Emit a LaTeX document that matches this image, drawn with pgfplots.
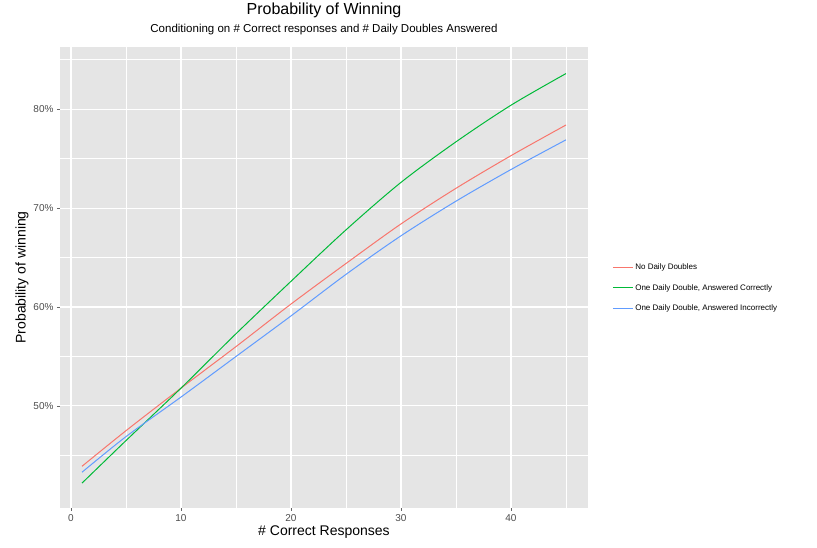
\documentclass[border=0pt]{standalone}
\usepackage{pgfplots}
\pgfplotsset{compat=1.18}
\usepackage{fontspec}
\setmainfont{Liberation Sans}
\definecolor{cR}{HTML}{F8766D}
\definecolor{cG}{HTML}{00BA38}
\definecolor{cB}{HTML}{619CFF}
\begin{document}
\begin{tikzpicture}
\begin{axis}[
  scale only axis, width=528pt, height=461pt,
  xmin=-1, xmax=47, ymin=39.7, ymax=86.3,
  axis background/.style={fill=black!10},
  axis line style={draw=none},
  xtick pos=bottom, ytick pos=left,
  xtick={0,10,20,30,40}, ytick={50,60,70,80},
  minor xtick={5,15,25,35,45}, minor ytick={45,55,65,75,85},
  yticklabel={\pgfmathprintnumber{\tick}\%},
  /pgf/number format/assume math mode=true,
  tick label style={font=\fontsize{10}{12}\selectfont, text=black!70},
  major tick style={black!60, thick}, minor tick style={draw=none},
  tick align=outside, major tick length=3pt,
  grid=both, major grid style={white, line width=1.1pt}, minor grid style={white, line width=0.5pt},
  xlabel={\# Correct Responses}, ylabel={Probability of winning},
  label style={font=\fontsize{14}{16}\selectfont},
  xlabel style={yshift=3pt}, ylabel style={yshift=-2pt},
  title={{\fontsize{16}{19}\selectfont Probability of Winning}\\[6pt]{\fontsize{11.5}{13}\selectfont Conditioning on \# Correct responses and \# Daily Doubles Answered}},
  title style={align=center, yshift=2pt},
  legend style={at={(1.04,0.477)}, anchor=west, draw=none, fill=none, font=\fontsize{8}{10}\selectfont, row sep=9pt},
  legend image code/.code={\draw[#1] (0pt,0pt) -- (20pt,0pt);},
  legend cell align=left,
  every axis plot/.append style={line width=1pt, smooth, tension=0.5, no markers},
]
\addplot[cR] coordinates {(1,43.9)(5,47.5)(10,51.8)(15,56.0)(20,60.3)(25,64.4)(30,68.4)(35,72.0)(40,75.3)(45,78.4)};
\addlegendentry{No Daily Doubles}
\addplot[cG] coordinates {(1,42.2)(5,46.5)(10,51.8)(15,57.3)(20,62.6)(25,67.8)(30,72.6)(35,76.7)(40,80.4)(45,83.6)};
\addlegendentry{One Daily Double, Answered Correctly}
\addplot[cB] coordinates {(1,43.3)(5,46.9)(10,50.9)(15,55.0)(20,59.1)(25,63.3)(30,67.2)(35,70.7)(40,73.9)(45,76.9)};
\addlegendentry{One Daily Double, Answered Incorrectly}
\end{axis}
\path[use as bounding box] (-60pt,-40pt) rectangle (757pt,506pt);
\end{tikzpicture}
\end{document}
